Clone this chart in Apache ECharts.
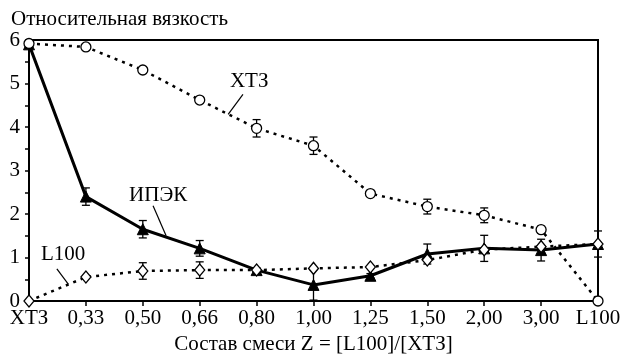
<!DOCTYPE html>
<html><head><meta charset="utf-8">
<script src="https://cdn.jsdelivr.net/npm/echarts@6/dist/echarts.min.js"></script>
<style>html,body{margin:0;padding:0;background:#fff}#c{width:621px;height:354px}</style>
</head><body><div id="c"></div>
<script>
const categories = ['ХТЗ','0,33','0,50','0,66','0,80','1,00','1,25','1,50','2,00','3,00','L100'];
const yTicks = [0,1,2,3,4,5,6];
const xtz = [5.92,5.84,5.31,4.62,3.97,3.57,2.47,2.17,1.97,1.64,0];
const xtzErr = [0,0,0,0,0.2,0.2,0.05,0.17,0.17,0.08,0];
const ipek = [5.9,2.40,1.65,1.21,0.71,0.37,0.58,1.08,1.21,1.17,1.31];
const ipekErr = [0,0.2,0.2,0.18,0.05,0.35,0.05,0.23,0.3,0.25,0.3];
const l100 = [0,0.55,0.69,0.71,0.71,0.75,0.78,0.94,1.18,1.25,1.31];
const l100Err = [0,0,0.19,0.19,0,0,0,0,0,0,0];
const titleText = 'Относительная вязкость';
const xName = 'Состав смеси Z = [L100]/[ХТЗ]';

const FONT = 'Liberation Serif';
const FS = 21;
const chart = echarts.init(document.getElementById('c'));
const pts = arr => arr.map((v,i)=>[i,v]);
const errData = (vals, errs) => vals.map((v,i)=>[i, v-errs[i], v+errs[i]]).filter((d,i)=>errs[i]>0);
const errSeries = (vals, errs) => ({
  type:'custom', z:1, silent:true,
  data: errData(vals, errs),
  renderItem: (params, api) => {
    const x = api.value(0);
    const a = api.coord([x, api.value(1)]), b = api.coord([x, api.value(2)]);
    const w = 4, st = {stroke:'#000', lineWidth:1.3};
    return {type:'group', children:[
      {type:'line', shape:{x1:a[0],y1:a[1],x2:b[0],y2:b[1]}, style:st},
      {type:'line', shape:{x1:a[0]-w,y1:a[1],x2:a[0]+w,y2:a[1]}, style:st},
      {type:'line', shape:{x1:b[0]-w,y1:b[1],x2:b[0]+w,y2:b[1]}, style:st}
    ]};
  }
});
chart.setOption({
  animation:false,
  title:{text:titleText, left:11, top:9, padding:0, textStyle:{fontFamily:FONT, fontSize:FS, fontWeight:'normal', color:'#000'}},
  grid:{left:29, right:23, top:40, bottom:53, show:true, borderColor:'#000', borderWidth:2, outerBoundsMode:'none', containLabel:false},
  xAxis:{type:'value', min:0, max:categories.length-1, interval:1,
    name:xName, nameLocation:'middle', nameGap:29,
    nameTextStyle:{fontFamily:FONT, fontSize:FS, color:'#000'},
    axisLine:{lineStyle:{color:'#000', width:2}},
    axisTick:{length:5, lineStyle:{color:'#000', width:1.5}},
    splitLine:{show:false},
    axisLabel:{fontFamily:FONT, fontSize:FS, color:'#000', margin:7, formatter:v=>categories[v]}},
  yAxis:{type:'value', min:yTicks[0], max:yTicks[yTicks.length-1], interval:1,
    axisLine:{show:true, lineStyle:{color:'#000', width:2}},
    axisTick:{show:true, length:4, lineStyle:{color:'#000', width:1.5}},
    minorTick:{show:true, splitNumber:2, length:4, lineStyle:{color:'#000', width:1.5}},
    splitLine:{show:false},
    axisLabel:{fontFamily:FONT, fontSize:FS, color:'#000', margin:9}},
  series:[
    errSeries(xtz, xtzErr), errSeries(ipek, ipekErr), errSeries(l100, l100Err),
    {type:'line', name:'ИПЭК', data:pts(ipek), z:3, symbol:'triangle', symbolSize:11,
      lineStyle:{color:'#000', width:3}, itemStyle:{color:'#000', borderColor:'#000'}},
    {type:'line', name:'L100', data:pts(l100), z:4, symbol:'diamond', symbolSize:[10,12],
      lineStyle:{color:'#000', width:2.5, type:[3,5]}, itemStyle:{color:'#fff', borderColor:'#000', borderWidth:1.3}},
    {type:'line', name:'ХТЗ', data:pts(xtz), z:5, symbol:'circle', symbolSize:10,
      lineStyle:{color:'#000', width:2.5, type:[3,5]}, itemStyle:{color:'#fff', borderColor:'#000', borderWidth:1.3}}
  ]
});
// annotations placed in data coordinates
const ann = [
  {text:'ХТЗ', at:[3.87,5.05], l1:[3.76,4.75], l2:[3.50,4.29]},
  {text:'ИПЭК', at:[2.27,2.42], l1:[2.18,2.19], l2:[2.41,1.50]},
  {text:'L100', at:[0.60,1.08], l1:[0.49,0.74], l2:[0.69,0.39]}
];
const g = [];
ann.forEach(a=>{
  const p = chart.convertToPixel({gridIndex:0}, a.at);
  const q1 = chart.convertToPixel({gridIndex:0}, a.l1);
  const q2 = chart.convertToPixel({gridIndex:0}, a.l2);
  g.push({type:'text', x:p[0], y:p[1], z:10, style:{text:a.text, fill:'#000', font:FS+'px "Liberation Serif"', align:'center', verticalAlign:'middle'}});
  g.push({type:'line', z:10, shape:{x1:q1[0],y1:q1[1],x2:q2[0],y2:q2[1]}, style:{stroke:'#000', lineWidth:1.2}});
});
chart.setOption({graphic:g});
</script></body></html>
